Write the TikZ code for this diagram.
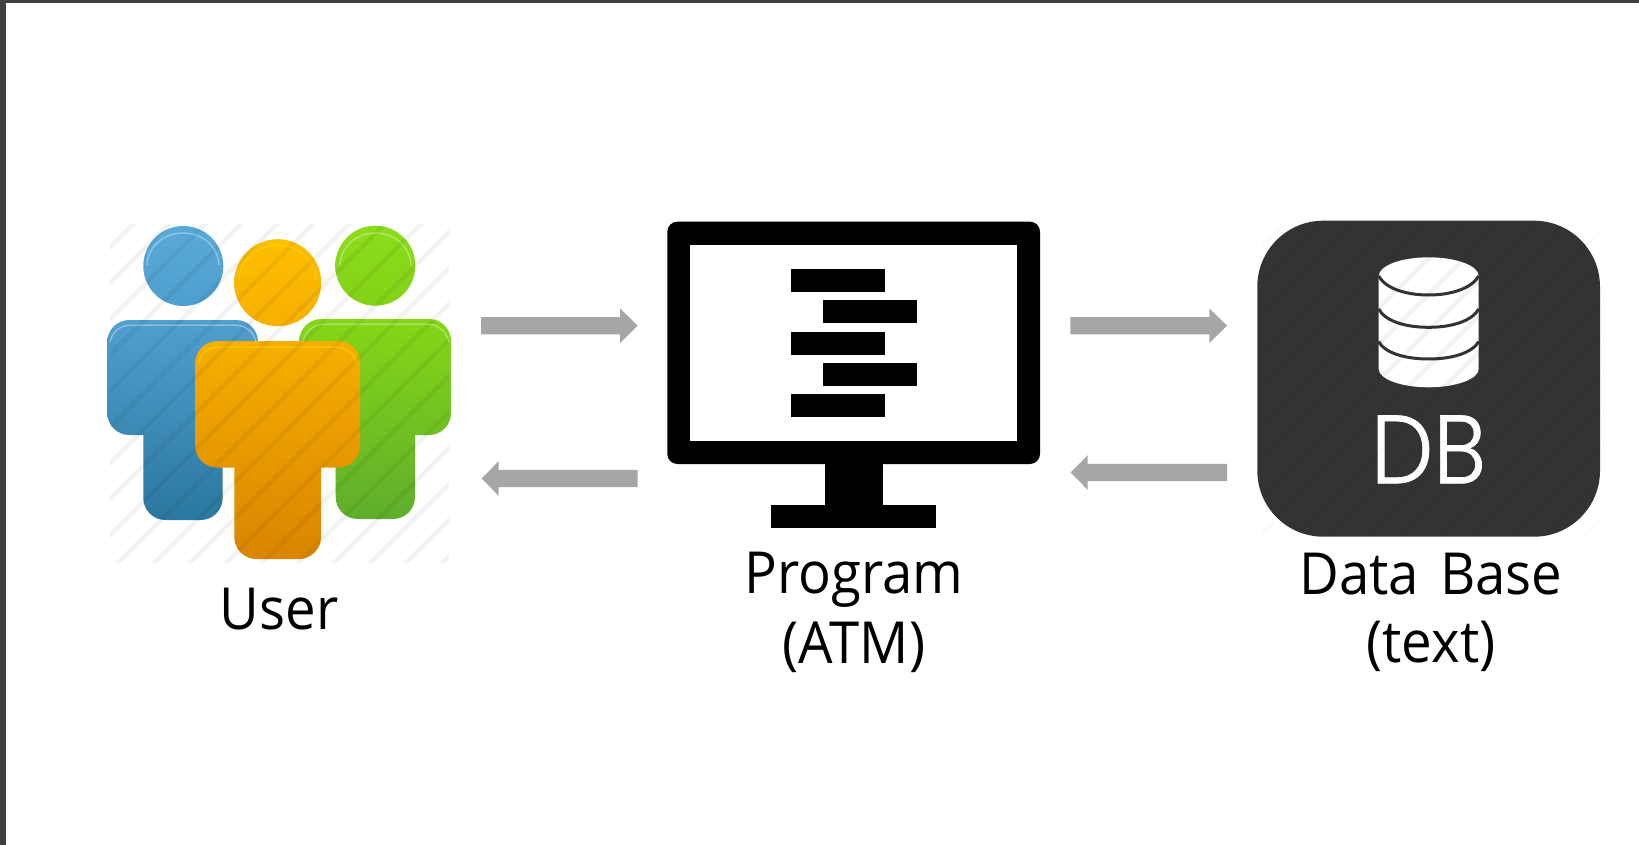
\documentclass[tikz,border=0pt]{standalone}
\usepackage{fontspec}
\setmainfont[FakeStretch=0.94]{Open Sans}
\newfontfamily\dbfont[FakeStretch=0.91,FakeBold=0.7]{Poppins Light}
\definecolor{frame}{HTML}{3F3F3F}
\definecolor{arrowgrey}{HTML}{A6A6A6}
\definecolor{dbdark}{HTML}{333333}
\definecolor{gt}{HTML}{86D617}\definecolor{gb}{HTML}{5FAE2C}
\definecolor{bt}{HTML}{519FCF}\definecolor{bb}{HTML}{2A789F}
\definecolor{yt}{HTML}{F6AF00}\definecolor{yb}{HTML}{D98500}
\definecolor{bhtop}{HTML}{5AAAD9}\definecolor{bhbot}{HTML}{4E9FCF}
\definecolor{ghtop}{HTML}{8CDC1C}\definecolor{ghbot}{HTML}{84D218}
\definecolor{yhtop}{HTML}{FFBE00}\definecolor{yhbot}{HTML}{F6B000}
\tikzset{
  labeltext/.style={font=\fontsize{58}{68}\selectfont,align=center,text=black,inner sep=0pt,anchor=base},
  flow/.style={fill=arrowgrey,draw=none},
  barshape/.style={fill=black,draw=none},
  stripeline/.style={line width=4.5pt,draw=black,opacity=.05},
  cylstripe/.style={line width=4.5pt,draw=black,opacity=.035},
  faintline/.style={line width=4.5pt,draw=black,opacity=.015},
  glow/.style={draw=white,opacity=.32,line width=1.5pt,line cap=round},
  headshape/.style={circle,inner sep=0pt},
  cylline/.style={draw=dbdark,line width=3pt},
}
\newcommand{\personbody}[9]{%
  \path[top color=#8,bottom color=#9,rounded corners=22pt]
    (#1,#3) rectangle (#2,#4) (#5,#4-45) rectangle (#6,#7);}
\newcommand{\rightarrowshape}[5]{% tail, base, tip, ymid, name
  \fill[flow] (#1,#4-8.7) -- (#2,#4-8.7) -- (#2,#4-17.3) -- (#3,#4) -- (#2,#4+17.3) -- (#2,#4+8.7) -- (#1,#4+8.7) -- cycle;}
\begin{document}
\begin{tikzpicture}[x=1pt,y=-1pt]
\useasboundingbox (0,0) rectangle (1639,845);
\fill[white] (0,0) rectangle (1639,845);
\fill[frame] (0,0) rectangle (1639,3);
\fill[frame] (0,0) rectangle (6,845);

% users
\personbody{299.3}{451}{319}{435}{335.7}{415}{519}{gt}{gb}
\personbody{107.3}{258}{320}{435}{143.3}{222.7}{520}{bt}{bb}
\personbody{195.3}{360}{341}{467.7}{234.3}{321}{559}{yt}{yb}
\node[headshape,minimum size=80pt,top color=bhtop,bottom color=bhbot] (bluehead) at (183.3,266) {};
\node[headshape,minimum size=80pt,top color=ghtop,bottom color=ghbot] (greenhead) at (375.3,265.7) {};
\node[headshape,minimum size=87pt,top color=yhtop,bottom color=yhbot] (yellowhead) at (277.7,282.7) {};
% highlights
\draw[glow] (147,265) .. controls (148,245) and (165,233) .. (183,233) .. controls (201,233) and (218,245) .. (219,265);
\draw[glow] (340,265) .. controls (341,245) and (358,233) .. (375,233) .. controls (393,233) and (410,245) .. (411,265);
\draw[glow,draw=yellow] (239,280) .. controls (240,260) and (258,245) .. (278,245) .. controls (298,245) and (315,260) .. (316,280);
\draw[glow] (110,342) .. controls (112,332) and (120,325) .. (132,325) -- (234,325) .. controls (246,325) and (254,332) .. (256,342);
\draw[glow] (303,342) .. controls (305,332) and (313,324) .. (325,324) -- (426,324) .. controls (438,324) and (447,332) .. (449,342);
\draw[glow,draw=yellow] (198,364) .. controls (200,354) and (208,347) .. (220,347) -- (335,347) .. controls (347,347) and (355,354) .. (357,364);

% monitor
\fill[black,rounded corners=10pt] (667.3,221.7) rectangle (1040,464);
\fill[white] (690,245) rectangle (1017.3,441);
\fill[black] (824.7,460) rectangle (882.7,510);
\fill[black] (771,505) rectangle (936.3,528.3);
\node[barshape,minimum width=93.3pt,minimum height=23pt,inner sep=0pt,anchor=north west] (bara) at (791,268.7) {};
\node[barshape,minimum width=93.7pt,minimum height=23pt,inner sep=0pt,anchor=north west] (barb) at (823,300) {};
\node[barshape,minimum width=93.3pt,minimum height=23pt,inner sep=0pt,anchor=north west] (barc) at (791,331.3) {};
\node[barshape,minimum width=93.7pt,minimum height=23pt,inner sep=0pt,anchor=north west] (bard) at (823,362.7) {};
\node[barshape,minimum width=93.3pt,minimum height=23pt,inner sep=0pt,anchor=north west] (bare) at (791,394) {};

% data base
\fill[dbdark,rounded corners=66pt] (1257.3,220.7) rectangle (1600,536.7);
\def\cylpath{(1378.7,276) .. controls (1378.7,265.7) and (1401,257.3) .. (1428.7,257.3) .. controls (1456,257.3) and (1478.7,265.7) .. (1478.7,276) -- (1478.7,369) .. controls (1478.7,379) and (1456,387.3) .. (1428.7,387.3) .. controls (1401,387.3) and (1378.7,379) .. (1378.7,369) -- cycle}
\fill[white] \cylpath;
\draw[cylline] (1378.7,276) .. controls (1385,288) and (1405,295) .. (1428.7,295) .. controls (1452,295) and (1472,288) .. (1478.7,276);
\draw[cylline] (1378.7,309) .. controls (1385,321) and (1405,327.3) .. (1428.7,327.3) .. controls (1452,327.3) and (1472,321) .. (1478.7,309);
\draw[cylline] (1378.7,341.7) .. controls (1385,353) and (1405,359) .. (1428.7,359) .. controls (1452,359) and (1472,353) .. (1478.7,341.7);
\node[text=white,inner sep=0pt,anchor=base,font=\dbfont\fontsize{97}{97}\selectfont] (dbtext) at (1428.5,483.3) {DB};

% stripes over the user icon and the data base icon
\begin{scope}
\clip (110,225) rectangle (449,562);
\foreach \k in {-4,...,16}{\pgfmathsetmacro{\c}{465+36*\k}\draw[stripeline] ({\c-600},600) -- ({\c-100},100);}
\end{scope}
\begin{scope}
\clip (1262,225) rectangle (1600,535);
\foreach \k in {-4,...,16}{\pgfmathsetmacro{\c}{1615+36*\k}\draw[faintline] ({\c-600},600) -- ({\c-100},100);}
\end{scope}
\begin{scope}
\clip \cylpath;
\foreach \k in {-4,...,16}{\pgfmathsetmacro{\c}{1615+36*\k}\draw[cylstripe] ({\c-600},600) -- ({\c-100},100);}
\end{scope}

% arrows
\rightarrowshape{481}{620}{637.7}{325.7}{a}
\rightarrowshape{1070.3}{1209.3}{1227}{325.7}{c}
\rightarrowshape{637.7}{498.7}{481.7}{478.5}{b}
\rightarrowshape{1227}{1087.7}{1070.7}{472.5}{d}

% labels
\node[labeltext] (userlabel) at (279,629.5) {User};
\node[labeltext] (programlabel) at (854,593) {Program};
\node[labeltext] (atmlabel) at (854,663) {(ATM)};
\node[labeltext] (dblabel) at (1431,594.3) {Data\hspace{.12em} Base};
\node[labeltext] (textlabel) at (1431,662.7) {(text)};
\end{tikzpicture}
\end{document}
